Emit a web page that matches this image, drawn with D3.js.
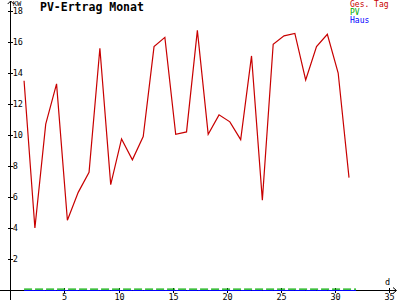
<!DOCTYPE html>
<html><head><meta charset="utf-8">
<script src="https://cdn.jsdelivr.net/npm/d3@7"></script>
<style>
html,body{margin:0;padding:0;background:#fff;}
svg{display:block;}
text{font-family:"DejaVu Sans Mono",monospace;}
</style></head>
<body>
<script>
const days = d3.range(1, 32);
const gesTag = [13.5, 4.0, 10.7, 13.3, 4.5, 6.3, 7.6, 15.6, 6.8, 9.75, 8.4, 9.9, 15.7, 16.3, 10.05, 10.2, 16.75, 10.05, 11.3, 10.85, 9.7, 15.1, 5.8, 15.85, 16.4, 16.55, 13.55, 15.7, 16.5, 14.0, 7.25];
const pvValues = days.map(() => 0);
const hausValues = days.map(() => 0);
const xTicks = [5, 10, 15, 20, 25, 30, 35];
const yTicks = [2, 4, 6, 8, 10, 12, 14, 16, 18];
const legend = [{name: "Ges. Tag", color: "#c80000"}, {name: "PV", color: "#00aa00"}, {name: "Haus", color: "#0000ff"}];
const title = "PV-Ertrag Monat";
const dayOffset = 0.28;   // samples sit slightly after the day mark
const lineEnd = 0.65;     // PV/Haus lines run to end of the last day

const W = 400, H = 300;
const svg = d3.select("body").append("svg").attr("width", W).attr("height", H);

const x = d3.scaleLinear().domain([0, 35]).range([10.2, 389.3]);
const y = d3.scaleLinear().domain([0, 18]).range([290, 11]);

// axes
const ax = svg.append("g").attr("stroke", "#000").attr("stroke-width", 1).attr("shape-rendering", "crispEdges");
ax.append("line").attr("x1", 0).attr("x2", 396).attr("y1", y(0) + 0.5).attr("y2", y(0) + 0.5);
ax.append("line").attr("x1", x(0) + 0.5).attr("x2", x(0) + 0.5).attr("y1", 1).attr("y2", 300);
// arrows
svg.append("path").attr("d", `M${x(0)-2.5},${4}L${x(0)+0.5},${1}L${x(0)+3.5},${4}`).attr("fill", "none").attr("stroke", "#000");
svg.append("path").attr("d", `M393,${y(0)-2.5}L396.5,${y(0)+0.5}L393,${y(0)+3.5}`).attr("fill", "none").attr("stroke", "#000");

// y ticks
yTicks.forEach(t => {
  const yy = Math.round(y(t)) + 0.5;
  ax.append("line").attr("x1", x(0) - 2).attr("x2", x(0) + 3).attr("y1", yy).attr("y2", yy);
  svg.append("text").attr("x", x(0) + 2.5).attr("y", yy).attr("dy", "0.35em")
    .attr("font-size", 8.5).attr("fill", "#000").text(t);
});
// x ticks
xTicks.forEach(t => {
  const xx = Math.round(x(t)) + 0.5;
  ax.append("line").attr("x1", xx).attr("x2", xx).attr("y1", y(0) - 2).attr("y2", y(0) + 3);
  svg.append("text").attr("x", xx).attr("y", 299.5).attr("text-anchor", "middle")
    .attr("font-size", 8.5).attr("fill", "#000").text(t);
});
svg.append("text").attr("x", x(0) + 2.5).attr("y", 5.5).attr("font-size", 7).text("KW");
svg.append("text").attr("x", 385).attr("y", 285).attr("font-size", 8.5).text("d");

// title
svg.append("text").attr("x", 40).attr("y", 11).attr("font-size", 11.5).attr("font-weight", "bold").text(title);

// legend
legend.forEach((l, i) => {
  svg.append("text").attr("x", 350).attr("y", 7 + i * 8).attr("font-size", 8).attr("fill", l.color).text(l.name);
});

// PV / Haus flat lines
const flat = (vals) => {
  const pts = vals.map((v, i) => [x(days[i] + dayOffset), y(v)]);
  pts.push([x(days[days.length - 1] + dayOffset + lineEnd), y(vals[vals.length - 1])]);
  return pts;
};
svg.append("path").attr("d", d3.line()(flat(hausValues))).attr("fill", "none")
  .attr("stroke", legend[2].color).attr("stroke-width", 1).attr("transform", "translate(0,0.5)");
svg.append("path").attr("d", d3.line()(flat(pvValues))).attr("fill", "none")
  .attr("stroke", legend[1].color).attr("stroke-width", 1.2).attr("stroke-dasharray", "8,3")
  .attr("transform", "translate(0,-0.8)");

// Ges. Tag line
const line = d3.line().x((d, i) => x(days[i] + dayOffset)).y(d => y(d));
svg.append("path").datum(gesTag).attr("d", line).attr("fill", "none")
  .attr("stroke", legend[0].color).attr("stroke-width", 1.2);
</script>
</body></html>
